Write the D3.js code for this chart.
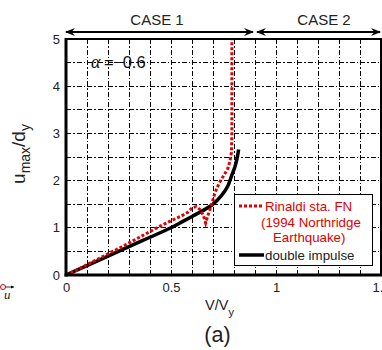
<!DOCTYPE html>
<html>
<head>
<meta charset="utf-8">
<script src="https://cdn.jsdelivr.net/npm/d3@7"></script>
<style>
  html, body { margin: 0; padding: 0; background: #fff; }
  svg { display: block; font-family: "Liberation Sans", Arial, sans-serif; }
</style>
</head>
<body>
<svg id="chart" width="382" height="350"></svg>
<script>
// Normalised strength V/Vy versus ductility demand umax/dy
const xTicks = [0, 0.5, 1, 1.5];
const xTickLabels = ["0", "0.5", "1", "1.5"];
const yTicks = [0, 1, 2, 3, 4, 5];
const xGrid = [0.1, 0.2, 0.3, 0.4, 0.5, 0.6, 0.7, 0.8, 0.9, 1.0, 1.1, 1.2, 1.3, 1.4];
const yGrid = [0.5, 1, 1.5, 2, 2.5, 3, 3.5, 4, 4.5];

// Rinaldi sta. FN record (1994 Northridge Earthquake)
const rinaldiV = [0, 0.05, 0.1, 0.15, 0.2, 0.25, 0.3, 0.35, 0.4, 0.45, 0.5, 0.55, 0.58, 0.6, 0.62, 0.64, 0.655, 0.665, 0.675, 0.69, 0.71, 0.73, 0.75, 0.77, 0.78, 0.788, 0.79, 0.79];
const rinaldiU = [0, 0.1, 0.22, 0.33, 0.45, 0.56, 0.68, 0.8, 0.92, 1.04, 1.15, 1.25, 1.33, 1.42, 1.45, 1.38, 1.25, 1.1, 1.25, 1.45, 1.75, 1.95, 2.1, 2.25, 2.4, 2.6, 3.0, 5.0];

// Double impulse approximation
const impulseV = [0, 0.1, 0.2, 0.3, 0.4, 0.5, 0.55, 0.6, 0.65, 0.7, 0.74, 0.77, 0.79, 0.805, 0.815, 0.822];
const impulseU = [0, 0.2, 0.4, 0.6, 0.8, 1.0, 1.12, 1.24, 1.36, 1.5, 1.68, 1.88, 2.12, 2.3, 2.48, 2.66];

const caseBounds = [[0, 0.9, "CASE 1"], [0.9, 1.5, "CASE 2"]];

const svg = d3.select("#chart");
const mLeft = 66, mRight = 381, mTop = 39, mBottom = 275;

const x = d3.scaleLinear().domain([0, 1.5]).range([mLeft, mRight]);
const y = d3.scaleLinear().domain([0, 5]).range([mBottom, mTop]);

// arrow marker
const defs = svg.append("defs");
defs.append("marker")
  .attr("id", "arr")
  .attr("viewBox", "0 0 10 10")
  .attr("refX", 9).attr("refY", 5)
  .attr("markerWidth", 10).attr("markerHeight", 10)
  .attr("markerUnits", "userSpaceOnUse")
  .attr("orient", "auto-start-reverse")
  .append("path")
  .attr("d", "M0,1 L10,5 L0,9 L3.5,5 Z")
  .attr("fill", "#000");

// grid
const grid = svg.append("g")
  .attr("stroke", "#000").attr("stroke-width", 1)
  .attr("shape-rendering", "crispEdges")
  .attr("stroke-dasharray", "5,2,1.5,2").attr("fill", "none");
grid.selectAll("line.v").data(xGrid).join("line").attr("class", "v")
  .attr("x1", d => x(d)).attr("x2", d => x(d))
  .attr("y1", mTop).attr("y2", mBottom);
grid.selectAll("line.h").data(yGrid).join("line").attr("class", "h")
  .attr("x1", mLeft).attr("x2", mRight)
  .attr("y1", d => y(d)).attr("y2", d => y(d));

// alpha label
const al = svg.append("text").attr("y", 68).attr("font-size", 16.5).attr("fill", "#111");
al.append("tspan").attr("x", 91).attr("font-family", "Liberation Serif, serif").attr("font-style", "italic").attr("font-size", 18).text("α");
al.append("tspan").attr("x", 104).text("=");
al.append("tspan").attr("x", 113).text("−0.6");

// curves
const lineLin = d3.line().x(d => x(d[0])).y(d => y(d[1]));

svg.append("path")
  .datum(impulseV.map((v, i) => [v, impulseU[i]]))
  .attr("d", d3.line().x(d => x(d[0])).y(d => y(d[1])).curve(d3.curveCatmullRom))
  .attr("fill", "none").attr("stroke", "#000").attr("stroke-width", 3.5);

svg.append("path")
  .datum(rinaldiV.map((v, i) => [v, rinaldiU[i]]))
  .attr("d", lineLin)
  .attr("fill", "none").attr("stroke", "#e00000").attr("stroke-width", 3)
  .attr("stroke-dasharray", "3,2");

// frame
svg.append("rect").attr("x", mLeft).attr("y", mTop)
  .attr("width", mRight - mLeft).attr("height", mBottom - mTop)
  .attr("fill", "none").attr("stroke", "#000").attr("stroke-width", 2);
svg.append("line").attr("x1", mLeft).attr("x2", mLeft).attr("y1", mTop - 1).attr("y2", mBottom + 1.5)
  .attr("stroke", "#000").attr("stroke-width", 3);
svg.append("line").attr("x1", mLeft - 1.5).attr("x2", mRight + 1).attr("y1", mBottom).attr("y2", mBottom)
  .attr("stroke", "#000").attr("stroke-width", 3);

// axes
const xAxis = svg.append("g").attr("transform", `translate(0,${mBottom})`)
  .call(d3.axisBottom(x).tickValues(xTicks).tickFormat((d, i) => xTickLabels[i]).tickSize(0).tickPadding(8));
const yAxis = svg.append("g").attr("transform", `translate(${mLeft},0)`)
  .call(d3.axisLeft(y).tickValues(yTicks).tickFormat(d3.format("d")).tickSize(0).tickPadding(6));
[xAxis, yAxis].forEach(g => {
  g.select(".domain").remove();
  g.selectAll("text").attr("font-size", 13).attr("font-family", "Liberation Sans, Arial, sans-serif").attr("fill", "#222");
});

// case arrows
const caseG = svg.append("g");
const caseLabelX = [157, 324];
caseBounds.forEach(([a, b, label], i) => {
  const x1 = x(a) + (i === 0 ? 0 : 2), x2 = x(b) - (i === 0 ? 2 : 1);
  caseG.append("line").attr("x1", x1).attr("x2", x2).attr("y1", 32).attr("y2", 32)
    .attr("stroke", "#000").attr("stroke-width", 2)
    .attr("marker-start", "url(#arr)").attr("marker-end", "url(#arr)");
  caseG.append("text").attr("x", caseLabelX[i]).attr("y", 25)
    .attr("text-anchor", "middle").attr("font-size", 15).attr("fill", "#222").text(label);
});

// legend
const lg = svg.append("g");
lg.append("rect").attr("x", 234.5).attr("y", 194.5).attr("width", 138).attr("height", 71)
  .attr("fill", "#fff").attr("stroke", "#000").attr("stroke-width", 1);
lg.append("line").attr("x1", 239).attr("x2", 264).attr("y1", 206).attr("y2", 206)
  .attr("stroke", "#e00000").attr("stroke-width", 3).attr("stroke-dasharray", "3,2");
lg.append("line").attr("x1", 239).attr("x2", 264).attr("y1", 255).attr("y2", 255)
  .attr("stroke", "#000").attr("stroke-width", 3.5);
const red = ["Rinaldi sta. FN", "(1994 Northridge", "Earthquake)"];
const redX = [265, 261, 273];
red.forEach((t, i) => {
  lg.append("text").attr("x", redX[i]).attr("y", 211 + i * 15.7)
    .attr("font-size", 13.3).attr("fill", "#e00000").text(t);
});
lg.append("text").attr("x", 265).attr("y", 259.5).attr("font-size", 13.3).attr("fill", "#222").text("double impulse");

// axis titles
const yt = svg.append("text").attr("transform", "translate(25,154) rotate(-90)")
  .attr("text-anchor", "middle").attr("font-size", 19).attr("fill", "#222");
yt.append("tspan").text("u");
yt.append("tspan").attr("font-size", 14).attr("dy", 5).text("max");
yt.append("tspan").attr("dy", -5).text("/d");
yt.append("tspan").attr("font-size", 14).attr("dy", 5).text("y");

const xt = svg.append("text").attr("x", 205).attr("y", 310).attr("font-size", 14.5).attr("fill", "#222");
xt.append("tspan").text("V/V");
xt.append("tspan").attr("font-size", 11).attr("dy", 6).text("y");

svg.append("text").attr("x", 217.5).attr("y", 341.5).attr("text-anchor", "middle")
  .attr("font-size", 21.5).attr("fill", "#222").text("(a)");

// displacement symbol at left
svg.append("circle").attr("cx", 3).attr("cy", 287).attr("r", 2.5)
  .attr("fill", "none").attr("stroke", "#e00000").attr("stroke-width", 1);
svg.append("line").attr("x1", 5.5).attr("x2", 14).attr("y1", 287).attr("y2", 287)
  .attr("stroke", "#000").attr("stroke-width", 0.8);
svg.append("path").attr("d", "M14,287 L11,285.5 L11,288.5 Z").attr("fill", "#000");
svg.append("text").attr("x", 4).attr("y", 299).attr("font-family", "Liberation Serif, serif")
  .attr("font-style", "italic").attr("font-size", 13).attr("fill", "#222").text("u");
</script>
</body>
</html>
